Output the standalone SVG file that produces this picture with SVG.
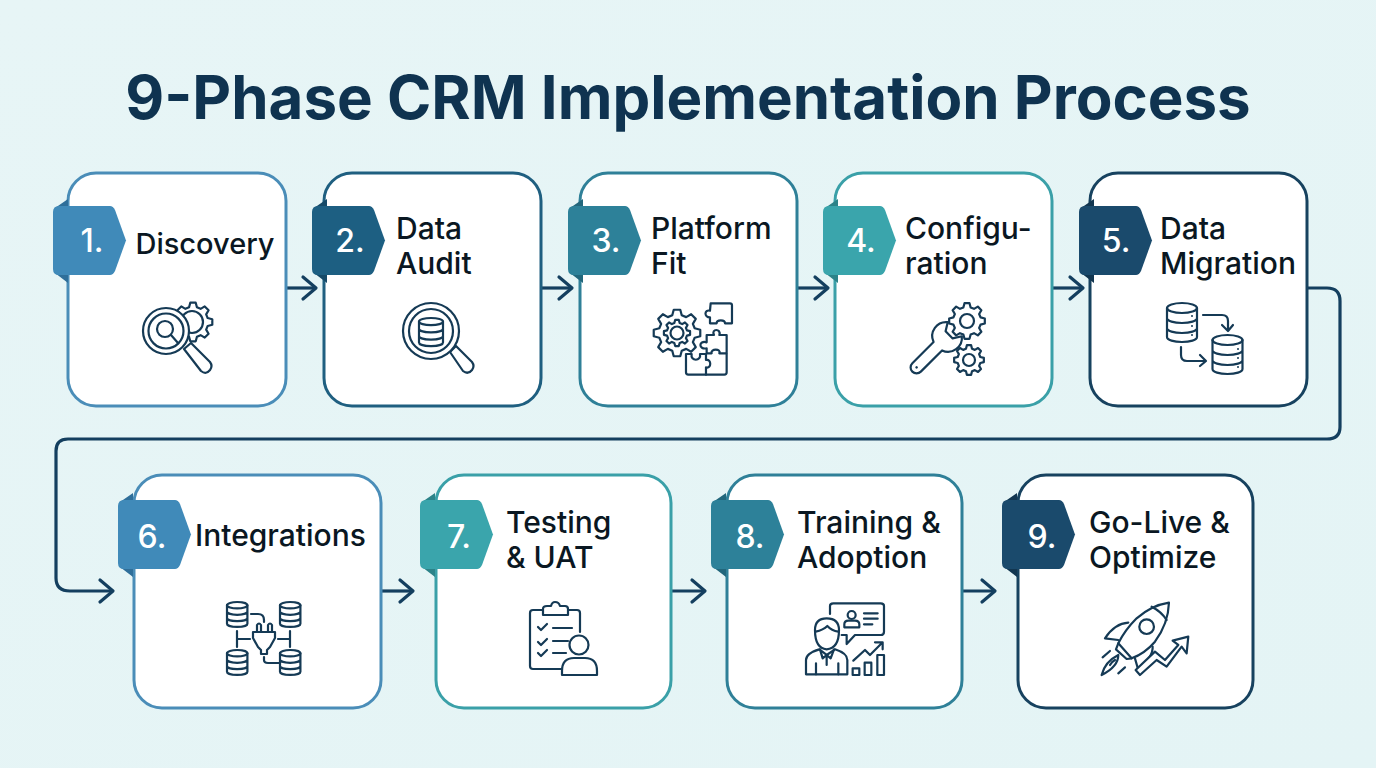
<svg xmlns="http://www.w3.org/2000/svg" width="1376" height="768" viewBox="0 0 1376 768">
<style>
.title{font:700 60px Inter,"Liberation Sans",sans-serif;fill:#0f3350;text-anchor:middle}
.lbl{font:500 30px Inter,"Liberation Sans",sans-serif;fill:#0a1722}
.num{font:500 32px Inter,"Liberation Sans",sans-serif;fill:#fff;text-anchor:middle}
.card{fill:#fff;stroke-width:3}
.icon{fill:none;stroke:#153a55;stroke-width:2.2;stroke-linecap:round;stroke-linejoin:round}
.ns{vector-effect:non-scaling-stroke}
.wf{fill:#fff}
.dot{fill:#153a55;stroke:none}
.conn{fill:none;stroke:#143f5f;stroke-width:3.2;stroke-linejoin:round}
.c1 .card{stroke:#4a8db8}.c1 .b{fill:#408ab9}.c1 .f{fill:#2f6f9a}
.c2 .card{stroke:#1f5f80}.c2 .b{fill:#1d5f82}.c2 .f{fill:#164a68}
.c3 .card{stroke:#2f8098}.c3 .b{fill:#2d8199}.c3 .f{fill:#22677c}
.c4 .card{stroke:#3aa0a8}.c4 .b{fill:#3aa5ac}.c4 .f{fill:#2c8389}
.c5 .card{stroke:#17425f}.c5 .b{fill:#1a4a6c}.c5 .f{fill:#123650}
</style>
<defs>
<linearGradient id="bg" x1="0" y1="0" x2="1" y2="1"><stop offset="0" stop-color="#e7f5f6"/><stop offset="1" stop-color="#e4f4f5"/></linearGradient>
<marker id="arr" markerUnits="userSpaceOnUse" markerWidth="22" markerHeight="28" refX="17" refY="14" orient="auto"><path d="M4 3L17 14L4 25" fill="none" stroke="#143f5f" stroke-width="3.2" stroke-linecap="round" stroke-linejoin="round"/></marker>
<path id="badge" d="M6 0H57Q60 0 62 4L73 34.5L62 65Q60 69 57 69H6Q0 69 0 63V6Q0 0 6 0Z"/>
<path id="fold" d="M2 2L15 -7V4ZM2 67L15 77V65Z"/>
<path id="gear" class="ns" d="M7.53 -2.02L9.9 -1.39L9.9 1.39L7.53 2.02L6.75 3.9L7.99 6.02L6.02 7.99L3.9 6.75L2.02 7.53L1.39 9.9L-1.39 9.9L-2.02 7.53L-3.9 6.75L-6.02 7.99L-7.99 6.02L-6.75 3.9L-7.53 2.02L-9.9 1.39L-9.9 -1.39L-7.53 -2.02L-6.75 -3.9L-7.99 -6.02L-6.02 -7.99L-3.9 -6.75L-2.02 -7.53L-1.39 -9.9L1.39 -9.9L2.02 -7.53L3.9 -6.75L6.02 -7.99L7.99 -6.02L6.75 -3.9Z"/>
<g id="db"><ellipse class="ns" cx="15" cy="5" rx="15" ry="5"/><path class="ns" d="M0 5V34C0 37 7 39 15 39S30 37 30 34V5M0 15C0 18 7 20 15 20S30 18 30 15M0 25C0 28 7 30 15 30S30 28 30 25"/></g>
</defs>
<rect width="1376" height="768" fill="url(#bg)"/>
<text id="title" class="title" x="688" y="119">9-Phase CRM Implementation Process</text>

<g id="connectors" class="conn">
<path d="M286 288H316" marker-end="url(#arr)"/>
<path d="M541 288H572" marker-end="url(#arr)"/>
<path d="M797 288H828" marker-end="url(#arr)"/>
<path d="M1052 288H1083" marker-end="url(#arr)"/>
<path d="M1307 288H1327Q1340 288 1340 301V427Q1340 439 1327 439H68Q56 439 56 451V578Q56 591 70 591H113" marker-end="url(#arr)"/>
<path d="M381 591H413" marker-end="url(#arr)"/>
<path d="M671 591H705" marker-end="url(#arr)"/>
<path d="M962 591H995" marker-end="url(#arr)"/>
</g>

<g id="phase-1" class="c1">
<rect class="card" x="68" y="173" width="218" height="233" rx="28"/>
<use class="f" href="#fold" x="53" y="206"/><use class="b" href="#badge" x="53" y="206"/>
<text class="num" x="92" y="252">1.</text>
<text class="lbl" x="135.500" y="254" style="font-size:29px">Discovery</text>
<g class="icon">
<use href="#gear" transform="translate(193,322) scale(1.95)"/>
<circle cx="192" cy="322" r="11"/>
<path class="wf" d="M184 349L191 343L210 362Q213 366 210 370Q206 375 201 371Z"/>
<circle class="wf" cx="166" cy="331" r="23"/>
<circle cx="166" cy="331" r="17.5"/>
<circle cx="165" cy="329" r="8"/>
<path d="M171 335L178 343"/>
</g>
</g>

<g id="phase-2" class="c2">
<rect class="card" x="324" y="173" width="217" height="233" rx="28"/>
<use class="f" href="#fold" x="312" y="206"/><use class="b" href="#badge" x="312" y="206"/>
<text class="num" x="350" y="252">2.</text>
<text class="lbl" x="396" y="239">Data</text>
<text class="lbl" x="396" y="274">Audit</text>
<g class="icon">
<path class="wf" d="M450 352L456 346L472 362Q475 366 472 370Q468 375 463 371Z"/>
<circle class="wf" cx="431" cy="331" r="28"/>
<circle cx="431" cy="331" r="22"/>
<use href="#db" transform="translate(419,318) scale(.8,.72)"/>
</g>
</g>

<g id="phase-3" class="c3">
<rect class="card" x="580" y="173" width="217" height="233" rx="28"/>
<use class="f" href="#fold" x="568" y="206"/><use class="b" href="#badge" x="568" y="206"/>
<text class="num" x="606" y="252">3.</text>
<text class="lbl" x="651" y="239">Platform</text>
<text class="lbl" x="651" y="274">Fit</text>
<g class="icon">
<use href="#gear" transform="translate(677,333) scale(2.35)"/>
<use href="#gear" transform="translate(677,333) scale(1.32)"/>
<circle cx="677" cy="333" r="6.5"/>
<g transform="translate(560,280) scale(.3333)">
<path class="ns wf" d="M452 70H510Q516 70 516 76V130H495C495 118 470 118 470 130H450V112C432 112 432 88 450 92Z"/>
<path class="ns wf" d="M440 165H462C452 145 485 145 478 165H500V220H478C485 205 450 205 455 220H440V205C415 210 415 180 440 187Z"/>
<path class="ns wf" d="M378 222H395C390 245 425 245 420 222H438V240C455 235 455 268 438 262V284H385Q378 284 378 277Z"/>
<path class="ns" d="M438 284H493Q500 284 500 277V222"/>
</g>
</g>
</g>

<g id="phase-4" class="c4">
<rect class="card" x="835" y="173" width="217" height="233" rx="28"/>
<use class="f" href="#fold" x="823" y="206"/><use class="b" href="#badge" x="823" y="206"/>
<text class="num" x="861" y="252">4.</text>
<text class="lbl" x="905" y="239">Configu-</text>
<text class="lbl" x="905" y="274">ration</text>
<g class="icon">
<use href="#gear" transform="translate(967,321) scale(1.8)"/>
<circle cx="967" cy="321" r="7"/>
<use href="#gear" transform="translate(969,360) scale(1.5)"/>
<circle cx="969" cy="360" r="6"/>
<g transform="translate(947,337) rotate(-45)">
<path class="wf" d="M-43 -6H-13A14 14 0 0 1 11 -10L3 -5V5L11 10A14 14 0 0 1 -13 6H-43A6 6 0 0 1 -43 -6Z"/>
<circle class="dot" cx="-43" cy="0" r="1.3"/>
</g>
</g>
</g>

<g id="phase-5" class="c5">
<rect class="card" x="1090" y="173" width="217" height="233" rx="28"/>
<use class="f" href="#fold" x="1079" y="206"/><use class="b" href="#badge" x="1079" y="206"/>
<text class="num" x="1116" y="252">5.</text>
<text class="lbl" x="1160" y="239">Data</text>
<text class="lbl" x="1160" y="274">Migration</text>
<g class="icon">
<use href="#db" x="1167" y="303"/>
<use href="#db" x="1212.500" y="335"/>
<circle class="dot" cx="1192" cy="316" r="1"/><circle class="dot" cx="1192" cy="326" r="1"/><circle class="dot" cx="1192" cy="335" r="1"/>
<circle class="dot" cx="1238" cy="349" r="1"/><circle class="dot" cx="1238" cy="358" r="1"/><circle class="dot" cx="1238" cy="367" r="1"/>
<path d="M1203 315H1222Q1228 315 1228 321V330M1222 325L1228 331L1233 325"/>
<path d="M1181 347V355Q1181 361 1187 361H1205M1200 355L1206 361L1200 366"/>
</g>
</g>

<g id="phase-6" class="c1">
<rect class="card" x="134" y="475" width="247" height="233" rx="28"/>
<use class="f" href="#fold" x="118" y="500"/><use class="b" href="#badge" x="118" y="500"/>
<text class="num" x="152" y="548">6.</text>
<text class="lbl" x="195" y="546">Integrations</text>
<g class="icon">
<use href="#db" transform="translate(227,602) scale(.68,.64)"/>
<use href="#db" transform="translate(280,602) scale(.68,.64)"/>
<use href="#db" transform="translate(227,650) scale(.68,.64)"/>
<use href="#db" transform="translate(280,650) scale(.68,.64)"/>
<path d="M251 614H258Q264 614 264 620V622"/>
<path d="M237 631V647M237 639H250M290 631V647M290 639H278"/>
<path d="M257 632V625Q259 622 261 625V632M268 632V625Q270 622 272 625V632"/>
<path d="M253 632H275V638L270 647Q268 649 267 650V654H261V650Q260 649 258 647L253 638Z"/>
<path d="M264 657V660Q264 663 268 663H279"/>
</g>
</g>

<g id="phase-7" class="c4">
<rect class="card" x="436" y="475" width="235" height="233" rx="28"/>
<use class="f" href="#fold" x="420" y="500"/><use class="b" href="#badge" x="420" y="500"/>
<text class="num" x="459" y="548">7.</text>
<text class="lbl" x="506" y="533">Testing</text>
<text class="lbl" x="506" y="568">&amp; UAT</text>
<g class="icon">
<path d="M543 610H533Q530 610 530 613V666Q530 669 533 669H561M568 610H577Q580 610 580 613V632"/>
<path d="M543 615V609Q543 606 547 606H551Q552 602 555 602Q559 602 560 606H565Q568 606 568 609V615Z"/>
<path d="M538 627L541 630L547 624M538 642L541 645L547 639M538 653L541 656L547 650"/>
<path d="M553 628H572M553 641H568M553 653H566"/>
<circle class="wf" cx="579" cy="645" r="9.500"/>
<path class="wf" d="M562 675V671Q562 658 574 658H585Q597 658 597 671V675Z"/>
</g>
</g>

<g id="phase-8" class="c3">
<rect class="card" x="727" y="475" width="235" height="233" rx="28"/>
<use class="f" href="#fold" x="711" y="500"/><use class="b" href="#badge" x="711" y="500"/>
<text class="num" x="750" y="548">8.</text>
<text class="lbl" x="797" y="533">Training &amp;</text>
<text class="lbl" x="797" y="568">Adoption</text>
<g class="icon"><g transform="translate(790,590) scale(.3333)">
<path class="ns" d="M120 72V48Q120 40 130 40H272Q282 40 282 48V125Q282 135 272 135H195L170 162V135H155"/>
<circle class="ns" cx="185" cy="75" r="12"/>
<path class="ns" d="M163 112V103Q163 92 175 92H195Q208 92 208 103V112Z"/>
<path class="ns" d="M222 70H263M222 86H263M222 103H247"/>
<path class="ns wf" d="M75 120Q75 85 110 85Q147 85 147 120Q147 175 110 178Q75 175 75 120Z"/>
<path class="ns" d="M77 125Q100 120 112 108Q125 122 145 125"/>
<path class="ns" d="M48 253V210Q48 190 88 178L110 195L135 178Q172 190 172 210V253Z"/>
<path class="ns" d="M78 253V220M145 253V220M90 178L98 205L110 195L122 205L132 178M110 195V225"/>
<path class="ns" d="M190 212L225 180L240 195L278 157M255 157H278V178"/>
<path class="ns" d="M188 235H208V255H188ZM224 218H244V255H224ZM262 195H282V255H262Z"/>
</g></g>
</g>

<g id="phase-9" class="c5">
<rect class="card" x="1018" y="475" width="235" height="233" rx="28"/>
<use class="f" href="#fold" x="1002" y="500"/><use class="b" href="#badge" x="1002" y="500"/>
<text class="num" x="1042" y="548">9.</text>
<text class="lbl" x="1089" y="533">Go-Live &amp;</text>
<text class="lbl" x="1089" y="568">Optimize</text>
<g class="icon"><g transform="translate(790,590) scale(.3333)">
<path class="ns" d="M1137 38Q1085 46 1040 85Q1005 120 985 160L1025 205Q1065 190 1095 155Q1135 100 1137 38Z"/>
<path class="ns" d="M1085 50Q1115 65 1130 90"/>
<circle class="ns" cx="1070" cy="110" r="22"/>
<path class="ns" d="M985 160L978 178L1010 207L1025 205"/>
<path class="ns" d="M1015 98Q975 100 945 145L985 150"/>
<path class="ns" d="M1088 170Q1090 200 1045 240L1035 205"/>
<path class="ns" d="M935 255Q945 215 985 195Q985 230 935 255ZM960 225Q965 215 975 210"/>
<path class="ns" d="M938 202L960 183M985 250L1005 232"/>
<path class="ns wf" d="M1037 240L1050 255L1100 210L1130 230L1175 170L1190 190L1195 140L1148 152L1165 165L1125 210L1095 185Z"/>
</g></g>
</g>
</svg>
